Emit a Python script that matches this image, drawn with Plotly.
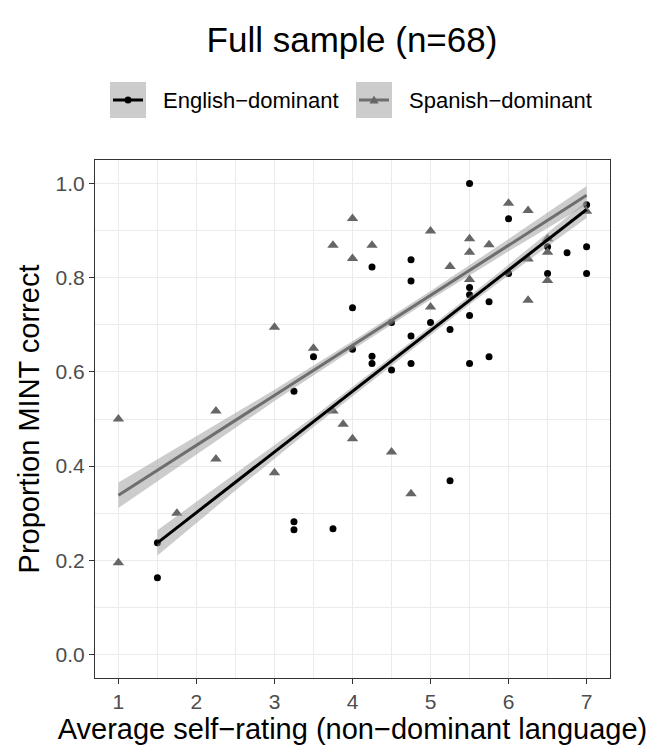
import plotly.graph_objects as go

# Average self-rating in the non-dominant language and proportion of MINT items correct
eng_rating = [1.5, 1.5, 3.25, 3.25, 3.75, 5.25, 3.25, 3.5, 4.0, 4.0, 4.25, 4.25, 4.25,
              4.5, 4.5, 4.75, 4.75, 4.75, 4.75, 5.0, 5.25, 5.5, 5.5, 5.5, 5.5, 5.5,
              5.75, 5.75, 6.0, 6.0, 6.5, 6.5, 6.75, 7.0, 7.0, 7.0]
eng_mint = [0.237, 0.163, 0.282, 0.265, 0.267, 0.369, 0.559, 0.632, 0.648, 0.736, 0.823,
            0.633, 0.618, 0.705, 0.604, 0.838, 0.793, 0.676, 0.618, 0.705, 0.690, 1.000,
            0.779, 0.764, 0.720, 0.618, 0.749, 0.632, 0.925, 0.809, 0.866, 0.809, 0.853,
            0.955, 0.866, 0.809]

spa_rating = [1.0, 1.0, 1.75, 2.25, 2.25, 3.0, 3.0, 3.5, 3.75, 3.75, 3.88, 4.0, 4.0, 4.0,
              4.25, 4.5, 4.75, 5.0, 5.0, 5.25, 5.5, 5.5, 5.5, 5.75, 6.0, 6.25, 6.25, 6.25,
              6.5, 6.5, 6.5, 7.0]
spa_mint = [0.500, 0.195, 0.300, 0.517, 0.415, 0.695, 0.386, 0.650, 0.869, 0.517, 0.489,
            0.926, 0.841, 0.458, 0.869, 0.430, 0.341, 0.899, 0.738, 0.824, 0.883, 0.854,
            0.796, 0.870, 0.958, 0.943, 0.840, 0.752, 0.883, 0.854, 0.794, 0.941]

# Model-predicted trend lines with their 95% confidence bands
eng_fit_x = [1.5, 2.5, 3.5, 4.5, 5.5, 6.5, 7.0]
eng_fit = [0.237, 0.366, 0.494, 0.623, 0.752, 0.881, 0.945]
eng_lo = [0.210, 0.348, 0.483, 0.614, 0.743, 0.867, 0.927]
eng_hi = [0.264, 0.384, 0.505, 0.632, 0.761, 0.895, 0.963]

spa_fit_x = [1.0, 2.0, 3.0, 4.0, 5.0, 6.0, 7.0]
spa_fit = [0.338, 0.444, 0.550, 0.656, 0.763, 0.869, 0.975]
spa_lo = [0.311, 0.425, 0.538, 0.647, 0.754, 0.856, 0.955]
spa_hi = [0.365, 0.463, 0.562, 0.665, 0.772, 0.882, 0.995]

x_ticks = [1, 2, 3, 4, 5, 6, 7]
y_ticks = [0.0, 0.2, 0.4, 0.6, 0.8, 1.0]
y_tick_text = ["0.0", "0.2", "0.4", "0.6", "0.8", "1.0"]

groups = ["English\u2212dominant", "Spanish\u2212dominant"]

ENG_COL = "#000000"
SPA_COL = "#666666"
SPA_LINE = "#6e6e6e"
BAND = "rgba(153,153,153,0.5)"
KEY_BG = "#cccccc"
GRID = "#ebebeb"
FONT = "Liberation Sans, Arial, Helvetica, sans-serif"

W, H = 652, 746
ML, MR, MT, MB = 95, 42, 160, 68
PW, PH = W - ML - MR, H - MT - MB


def px_x(px):
    return (px - ML) / PW


def px_y(py):
    return (H - MB - py) / PH


fig = go.Figure()

fig.add_trace(go.Scatter(
    x=eng_rating, y=eng_mint, mode="markers", name=groups[0], showlegend=False,
    marker=dict(symbol="circle", size=7, color=ENG_COL)))
fig.add_trace(go.Scatter(
    x=spa_rating, y=spa_mint, mode="markers", name=groups[1], showlegend=False,
    marker=dict(symbol="triangle-up", size=10, color=SPA_COL)))

for name, fx, fy, lo, hi, lcol in [
        (groups[0], eng_fit_x, eng_fit, eng_lo, eng_hi, ENG_COL),
        (groups[1], spa_fit_x, spa_fit, spa_lo, spa_hi, SPA_LINE)]:
    fig.add_trace(go.Scatter(
        x=fx + fx[::-1], y=hi + lo[::-1], fill="toself", fillcolor=BAND,
        line=dict(width=0), mode="lines", hoverinfo="skip",
        showlegend=False))
    fig.add_trace(go.Scatter(
        x=fx, y=fy, mode="lines", name=name, showlegend=False,
        line=dict(color=lcol, width=3)))

# Legend drawn as keys with a grey background, as in the band colour
shapes = []
annotations = []
keys = [(110, groups[0], ENG_COL, ENG_COL, "circle"),
        (356, groups[1], SPA_LINE, SPA_COL, "triangle")]
ky = 100
for left, label, lcol, mcol, kind in keys:
    shapes.append(dict(type="rect", xref="paper", yref="paper",
                       x0=px_x(left), x1=px_x(left + 36), y0=px_y(ky + 18), y1=px_y(ky - 18),
                       fillcolor=KEY_BG, line=dict(width=0), layer="above"))
    shapes.append(dict(type="line", xref="paper", yref="paper",
                       x0=px_x(left + 3), x1=px_x(left + 33), y0=px_y(ky), y1=px_y(ky),
                       line=dict(color=lcol, width=3), layer="above"))
    cx = left + 18
    if kind == "circle":
        shapes.append(dict(type="circle", xref="paper", yref="paper",
                           x0=px_x(cx - 3.5), x1=px_x(cx + 3.5),
                           y0=px_y(ky + 3.5), y1=px_y(ky - 3.5),
                           fillcolor=mcol, line=dict(width=0), layer="above"))
    else:
        path = "M {:.5f} {:.5f} L {:.5f} {:.5f} L {:.5f} {:.5f} Z".format(
            px_x(cx - 4.5), px_y(ky + 3.5), px_x(cx + 4.5), px_y(ky + 3.5),
            px_x(cx), px_y(ky - 4.5))
        shapes.append(dict(type="path", xref="paper", yref="paper", path=path,
                           fillcolor=mcol, line=dict(width=0), layer="above"))
    annotations.append(dict(text=label, xref="paper", yref="paper",
                            x=px_x(left + 51), y=px_y(ky), xanchor="left", yanchor="middle",
                            showarrow=False, font=dict(size=22, color="#000000", family=FONT)))

fig.update_layout(
    width=W, height=H,
    margin=dict(l=ML, r=MR, t=MT, b=MB),
    paper_bgcolor="white", plot_bgcolor="white",
    font=dict(family=FONT, color="#000000"),
    showlegend=False,
    shapes=shapes, annotations=annotations,
    title=dict(text="Full sample (n=68)", x=352 / W, xref="container", xanchor="center",
               y=1 - 40 / H, yref="container", yanchor="middle",
               font=dict(size=35, color="#000000")),
    xaxis=dict(range=[0.7, 7.3], tickvals=x_ticks, ticks="outside", ticklen=5,
               tickcolor="#333333", tickwidth=1,
               tickfont=dict(size=21, color="#4d4d4d"),
               showgrid=True, gridcolor=GRID, gridwidth=1.4,
               minor=dict(dtick=0.5, tick0=0, showgrid=True, gridcolor=GRID, gridwidth=0.7),
               zeroline=False, showline=True, linecolor="#333333", linewidth=1.2, mirror=True,
               title=dict(text="Average self\u2212rating (non\u2212dominant language)",
                          font=dict(size=29, color="#000000"), standoff=0)),
    yaxis=dict(range=[-0.05, 1.05], tickvals=y_ticks, ticktext=y_tick_text,
               ticks="outside", ticklen=5, tickcolor="#333333", tickwidth=1,
               tickfont=dict(size=21, color="#4d4d4d"),
               showgrid=True, gridcolor=GRID, gridwidth=1.4,
               minor=dict(dtick=0.1, tick0=0, showgrid=True, gridcolor=GRID, gridwidth=0.7),
               zeroline=False, showline=True, linecolor="#333333", linewidth=1.2, mirror=True,
               title=dict(text="Proportion MINT correct",
                          font=dict(size=29, color="#000000"), standoff=7)),
)

fig.write_html("out.html")
